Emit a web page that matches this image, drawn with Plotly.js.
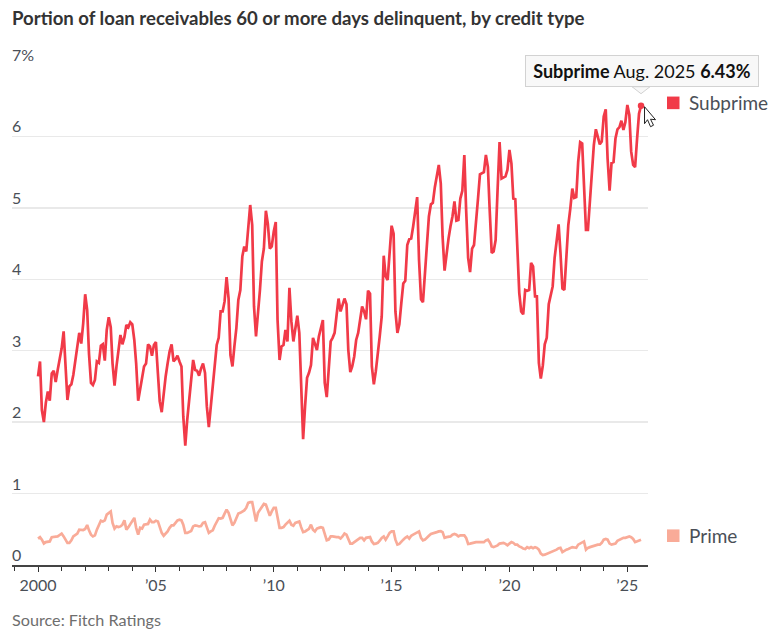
<!DOCTYPE html>
<html><head><meta charset="utf-8">
<script src="https://cdn.plot.ly/plotly-3.0.1.min.js"></script>
<style>html,body{margin:0;padding:0;background:#fff}#c{width:773px;height:636px}</style>
</head><body><div id="c"></div>
<script>
const titleText = "Portion of loan receivables 60 or more days delinquent, by credit type";
const sourceText = "Source: Fitch Ratings";
const startYear = 2000;
const subprime = [
2.64,2.85,2.17,2.00,2.27,2.43,2.30,2.68,2.72,2.56,2.73,2.87,
3.03,3.27,2.78,2.31,2.50,2.53,2.66,2.87,3.03,3.25,3.10,3.38,
3.79,3.57,2.96,2.55,2.52,2.59,2.85,2.83,3.07,3.09,2.86,3.29,
3.47,3.33,2.82,2.51,2.78,3.03,3.22,3.09,3.19,3.36,3.33,3.40,
3.37,3.15,2.82,2.30,2.45,2.64,2.78,2.82,3.09,3.06,2.93,3.08,
3.12,2.68,2.29,2.14,2.40,2.64,2.82,2.99,3.09,2.85,2.88,2.93,
2.85,2.78,2.08,1.67,2.03,2.36,2.59,2.87,2.73,2.72,2.65,2.75,
2.82,2.69,2.22,1.93,2.22,2.55,2.83,3.08,3.18,3.55,3.55,3.69,
4.03,3.73,2.94,2.78,3.06,3.32,3.71,3.85,4.32,4.46,4.39,4.76,
5.04,4.76,3.62,3.20,3.48,3.85,4.25,4.43,4.96,4.78,4.43,4.46,
4.67,4.80,3.43,2.87,3.06,3.08,3.29,3.13,3.88,3.41,3.13,3.32,
3.49,3.25,2.46,1.76,2.22,2.62,2.69,2.80,3.18,3.11,3.01,3.20,
3.32,3.43,2.55,2.35,2.73,3.13,3.18,3.25,3.50,3.73,3.55,3.64,
3.73,3.65,3.01,2.70,2.78,2.92,3.15,3.25,3.48,3.62,3.55,3.44,
3.84,3.80,2.78,2.53,2.71,2.92,3.20,3.48,4.33,4.04,3.99,4.37,
4.75,4.64,3.55,3.25,3.37,3.67,3.94,3.98,4.48,4.56,4.57,4.74,
4.97,5.15,4.27,3.72,3.68,4.09,4.62,4.88,5.05,5.07,5.29,5.46,
5.60,5.34,4.60,4.12,4.37,4.57,4.74,4.88,5.09,4.82,4.83,5.13,
5.24,5.74,4.97,4.30,4.10,4.43,4.48,4.88,5.13,5.47,5.49,5.50,
5.74,5.57,4.97,4.37,4.39,4.55,5.25,5.92,5.41,5.42,5.44,5.53,
5.81,5.62,5.13,5.12,4.37,3.81,3.55,3.51,3.85,3.84,3.85,4.23,
4.18,3.76,3.76,2.83,2.61,2.79,3.09,3.18,3.65,3.76,3.90,4.30,
4.55,4.77,4.38,3.87,3.85,4.38,4.76,4.99,5.27,5.14,5.15,5.64,
5.92,5.90,5.22,4.69,4.69,5.08,5.36,5.88,6.10,6.00,5.89,5.93,
6.28,6.38,5.69,5.24,5.63,5.64,5.97,6.10,6.13,6.22,6.09,6.20,
6.44,6.30,5.79,5.60,5.57,5.97,6.32,6.43];
const prime = [
.37,.39,.355,.30,.32,.32,.33,.39,.39,.40,.40,.42,
.44,.40,.355,.31,.31,.345,.40,.425,.44,.495,.495,.49,
.505,.56,.485,.425,.40,.415,.495,.565,.62,.61,.625,.705,
.73,.75,.59,.51,.54,.53,.54,.565,.625,.495,.53,.575,
.625,.66,.52,.425,.52,.51,.565,.57,.575,.635,.60,.60,
.62,.61,.54,.45,.41,.435,.47,.52,.555,.555,.59,.625,
.635,.625,.565,.45,.45,.46,.475,.54,.555,.55,.54,.545,
.59,.60,.53,.45,.47,.485,.55,.60,.655,.65,.66,.72,
.775,.73,.635,.555,.59,.66,.72,.73,.745,.765,.80,.87,
.88,.88,.75,.61,.73,.775,.80,.855,.845,.75,.69,.75,
.80,.80,.635,.52,.52,.53,.565,.59,.62,.565,.55,.59,
.60,.61,.53,.46,.47,.485,.505,.565,.495,.47,.51,.52,
.53,.52,.425,.345,.355,.40,.40,.39,.39,.39,.37,.40,
.44,.425,.355,.30,.30,.32,.33,.355,.38,.38,.345,.38,
.39,.39,.33,.295,.30,.31,.34,.38,.40,.355,.40,.45,
.47,.47,.355,.285,.295,.33,.355,.38,.40,.37,.41,.425,
.44,.46,.47,.38,.345,.355,.39,.41,.435,.44,.45,.46,
.47,.475,.46,.38,.39,.39,.40,.425,.435,.425,.40,.415,
.415,.415,.38,.295,.30,.31,.32,.32,.32,.32,.33,.32,
.345,.355,.32,.26,.25,.26,.275,.30,.30,.31,.295,.275,
.30,.32,.31,.285,.285,.26,.25,.23,.225,.25,.235,.25,
.235,.25,.24,.215,.16,.14,.145,.155,.17,.18,.19,.20,
.215,.235,.24,.18,.20,.215,.225,.24,.25,.245,.24,.285,
.30,.32,.33,.215,.24,.25,.26,.27,.27,.285,.285,.31,
.355,.365,.355,.30,.285,.295,.30,.34,.355,.365,.38,.38,
.39,.40,.39,.365,.32,.33,.345,.355];
const xTickVals = ["2000-01-01","2005-01-01","2010-01-01","2015-01-01","2020-01-01","2025-01-01"];
const xTickText = ["2000","’05","’10","’15","’20","’25"];
const yTickVals = [0,1,2,3,4,5,6,7];
const yTickText = ["0","1","2","3","4","5","6","7%"];
const xRange = ["1998-11-24", "2025-11-17"];
const tooltipText = "<b>Subprime</b> Aug. 2025 <b>6.43%</b>";

const months = subprime.map((_, i) => {
  const y = startYear + Math.floor(i / 12), m = (i % 12) + 1;
  return y + "-" + String(m).padStart(2, "0") + "-01";
});
const lastX = months[months.length - 1], lastY = subprime[subprime.length - 1];
const lastFrac = (Date.parse(lastX) - Date.parse(xRange[0])) / (Date.parse(xRange[1]) - Date.parse(xRange[0]));
const RED = "#f13a48", SALMON = "#f9ab98", FONT = "Lato, sans-serif", INK = "#4a4f57";

const traces = [
  {x: months, y: prime, type: "scatter", mode: "lines", name: "Prime",
   line: {color: SALMON, width: 2.7, shape: "linear"}, hoverinfo: "skip"},
  {x: months, y: subprime, type: "scatter", mode: "lines", name: "Subprime",
   line: {color: RED, width: 2.7, shape: "linear"}, hoverinfo: "skip"},
  {x: [lastX], y: [lastY], type: "scatter", mode: "markers", name: "Selected",
   marker: {color: RED, size: 6.5}, hoverinfo: "skip", cliponaxis: false}
];

const legendSwatch = (val, color) => ({
  type: "rect", xref: "paper", yref: "y", xsizemode: "pixel", ysizemode: "pixel",
  xanchor: 1, yanchor: val, x0: 19, x1: 31.5, y0: -6.3, y1: 6.3,
  fillcolor: color, line: {width: 0}, layer: "above"
});
const legendLabel = (text, val) => ({
  text, xref: "paper", yref: "y", x: 1, y: val, xanchor: "left", yanchor: "middle",
  xshift: 38.5, showarrow: false, font: {family: FONT, size: 19, color: INK}
});
const pixelPath = (path, fill, line) => ({
  type: "path", xref: "paper", yref: "y", xsizemode: "pixel", ysizemode: "pixel",
  xanchor: lastFrac, yanchor: lastY, path, fillcolor: fill, line, layer: "above"
});

const layout = {
  width: 773, height: 636, showlegend: false, hovermode: false,
  paper_bgcolor: "#fff", plot_bgcolor: "#fff",
  margin: {l: 12, r: 125, t: 65, b: 71, pad: 0},
  font: {family: FONT, size: 16, color: INK},
  title: {text: "<b>" + titleText + "</b>", x: 0, xref: "paper", xanchor: "left", yanchor: "middle",
          y: 1 - 18 / 636, font: {family: FONT, size: 18.6, color: "#333"}, automargin: false},
  xaxis: {type: "date", range: xRange, tickmode: "array",
          tickvals: xTickVals, ticktext: xTickText, ticks: "outside", ticklen: 5, tickwidth: 1,
          tickcolor: "#333", showgrid: false, zeroline: false, showline: true, linecolor: "#444",
          linewidth: 1.5, tickfont: {family: FONT, size: 16, color: INK},
          minor: {dtick: "M12", tick0: "2000-01-01", ticks: "outside", ticklen: 4, tickcolor: "#333", tickwidth: 1, showgrid: false}},
  yaxis: {range: [0, 7], tickmode: "array", tickvals: yTickVals, ticktext: yTickText,
          ticks: "", showgrid: true, gridcolor: "#e9e9e9", gridwidth: 1.5, zeroline: false, showline: false,
          showticklabels: false},
  shapes: [
    legendSwatch(6.47, RED),
    legendSwatch(0.41, SALMON),
    pixelPath("M -9 19 L 0 12 L 9 19 Z", "#f8f8f8", {color: "#d2d2d2", width: 1}),
    pixelPath("M 3.5 -1 L 3.5 -18 L 6.5 -14 L 9.5 -21 L 12.5 -19.5 L 9.5 -13.5 L 14.5 -14 Z", "#fff", {color: "#222", width: 1})
  ],
  annotations: [
    ...yTickVals.map((v, i) => ({
      text: yTickText[i], xref: "paper", yref: "y", x: 0, y: v, xanchor: "left", yanchor: "bottom",
      showarrow: false, yshift: -1, xshift: -2, font: {family: FONT, size: 16, color: INK}
    })),
    legendLabel("Subprime", 6.47),
    legendLabel("Prime", 0.41),
    {text: sourceText, xref: "paper", yref: "paper", x: 0, y: 0, xanchor: "left", yanchor: "middle", yshift: -54,
     xshift: -2, showarrow: false, font: {family: FONT, size: 16.2, color: "#6e6e6e"}},
    {text: tooltipText, xref: "paper", yref: "y", x: lastFrac, y: lastY, xanchor: "center", yanchor: "bottom",
     yshift: 19, xshift: 1, showarrow: false, width: 230, height: 28, bgcolor: "#f8f8f8", bordercolor: "#d2d2d2",
     borderwidth: 1, borderpad: 1, font: {family: FONT, size: 18, color: "#111"}}
  ]
};
Plotly.newPlot("c", traces, layout, {displayModeBar: false, staticPlot: true});
</script></body></html>
